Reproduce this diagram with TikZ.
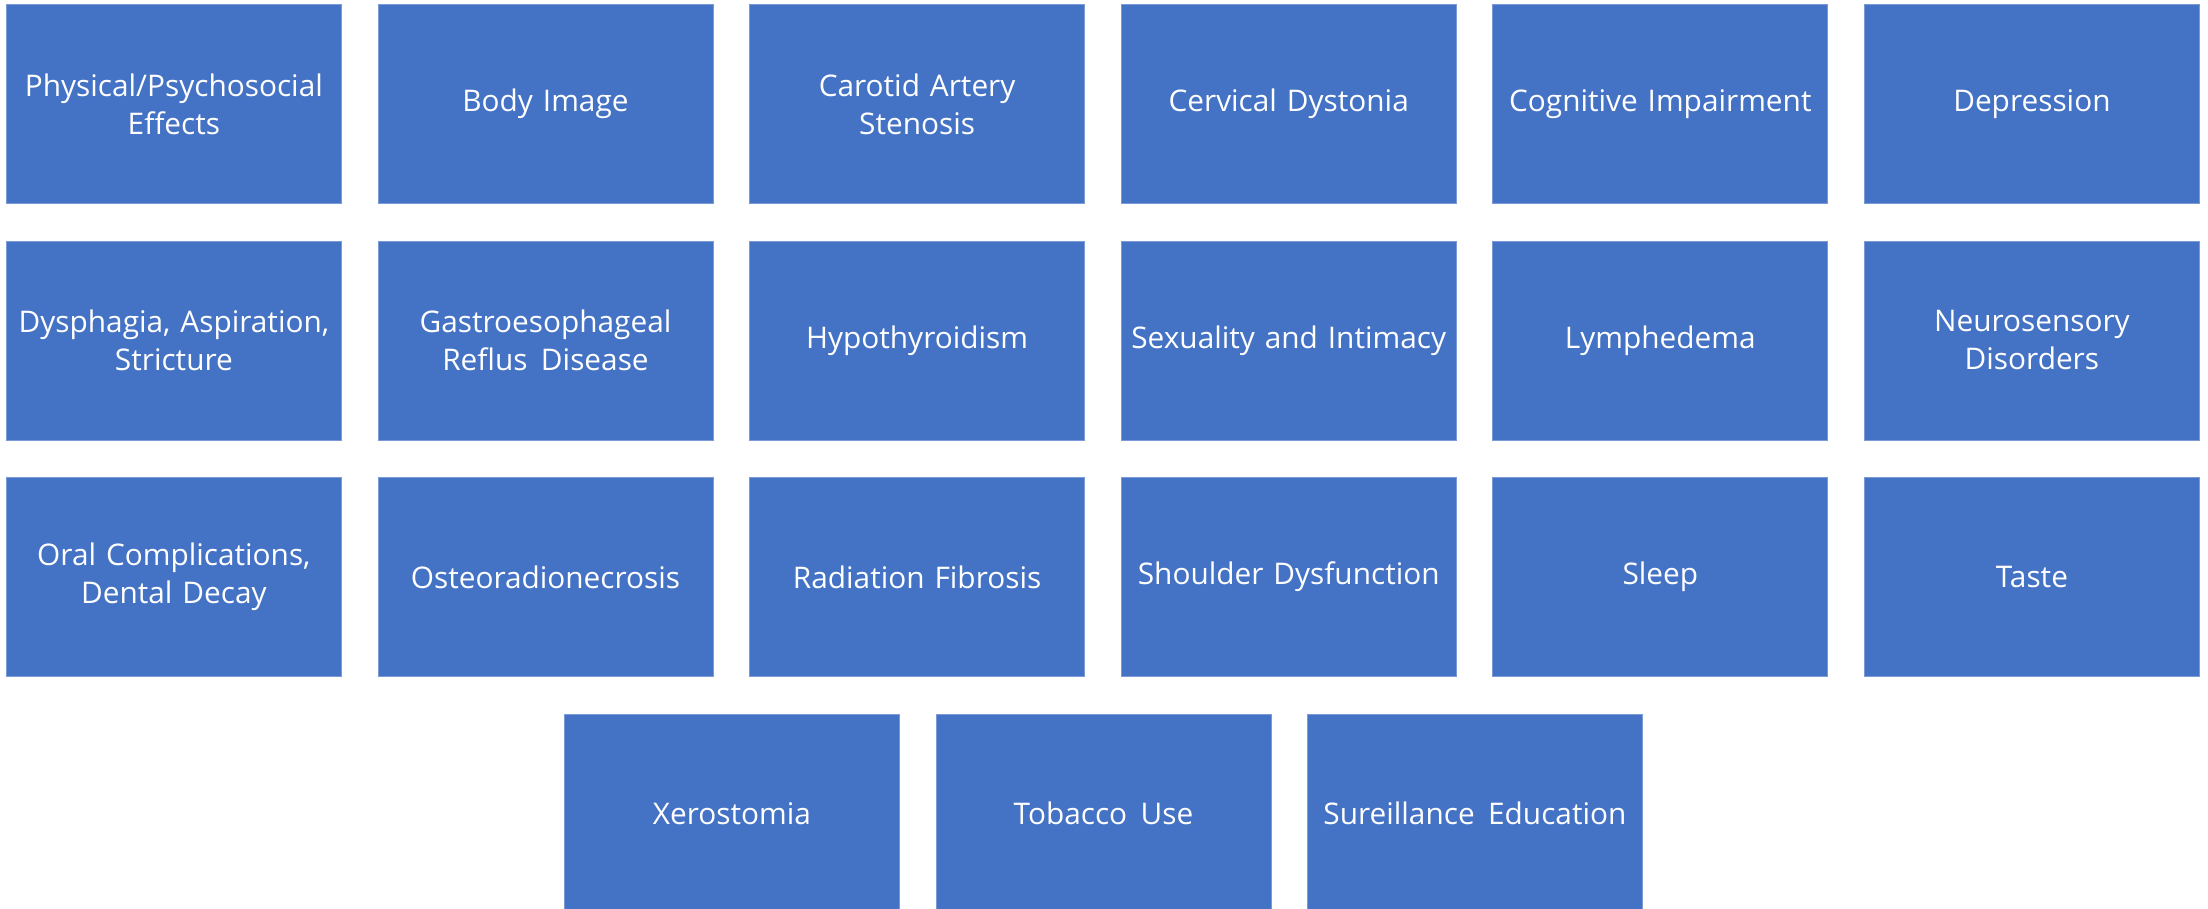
\documentclass[tikz,border=0pt]{standalone}
\usepackage{fontspec}
\setmainfont{Open Sans}
\definecolor{boxblue}{HTML}{4472C4}
\definecolor{boxedge}{HTML}{7A9BD8}
\newcommand{\wsp}{\hspace{0.45em}}
\begin{document}
\begin{tikzpicture}[x=1pt,y=-1pt,
  tile/.style={rectangle, fill=boxblue, draw=boxedge, line width=0.8pt,
    minimum width=335pt, minimum height=199pt, inner sep=0pt,
    text=white, align=center, text width=333pt,
    font=\fontsize{29.8}{38}\selectfont, anchor=north west}]
\useasboundingbox (0,0) rectangle (2208,908);
\clip (0,0) rectangle (2208,908);
\def\rA{4}\def\rB{240.5}\def\rC{477}\def\rD{713.5}
\node[tile] (n11) at (6,\rA) {Physical/Psychosocial\\Effects};
\node[tile] (n12) at (377.6,\rA) {Body Image};
\node[tile] (n13) at (749.2,\rA) {Carotid Artery\\Stenosis};
\node[tile] (n14) at (1120.8,\rA) {Cervical Dystonia};
\node[tile] (n15) at (1492.4,\rA) {Cognitive Impairment};
\node[tile] (n16) at (1864,\rA) {Depression};
\node[tile] (n21) at (6,\rB) {Dysphagia, Aspiration,\\Stricture};
\node[tile] (n22) at (377.6,\rB) {Gastroesophageal\\Reflus\wsp Disease};
\node[tile] (n23) at (749.2,\rB) {Hypothyroidism};
\node[tile] (n24) at (1120.8,\rB) {Sexuality and Intimacy};
\node[tile] (n25) at (1492.4,\rB) {Lymphedema};
\node[tile] (n26) at (1864,\rB) {Neurosensory\\Disorders};
\node[tile] (n31) at (6,\rC) {Oral Complications,\\Dental Decay};
\node[tile] (n32) at (377.6,\rC) {Osteoradionecrosis};
\node[tile] (n33) at (749.2,\rC) {Radiation Fibrosis};
\node[tile] (n34) at (1120.8,\rC) {Shoulder Dysfunction};
\node[tile] (n35) at (1492.4,\rC) {Sleep};
\node[tile] (n36) at (1864,\rC) {Taste};
\node[tile] (n41) at (564,\rD) {Xerostomia};
\node[tile] (n42) at (935.5,\rD) {Tobacco\wsp Use};
\node[tile] (n43) at (1307,\rD) {Sureillance\wsp Education};
\end{tikzpicture}
\end{document}
